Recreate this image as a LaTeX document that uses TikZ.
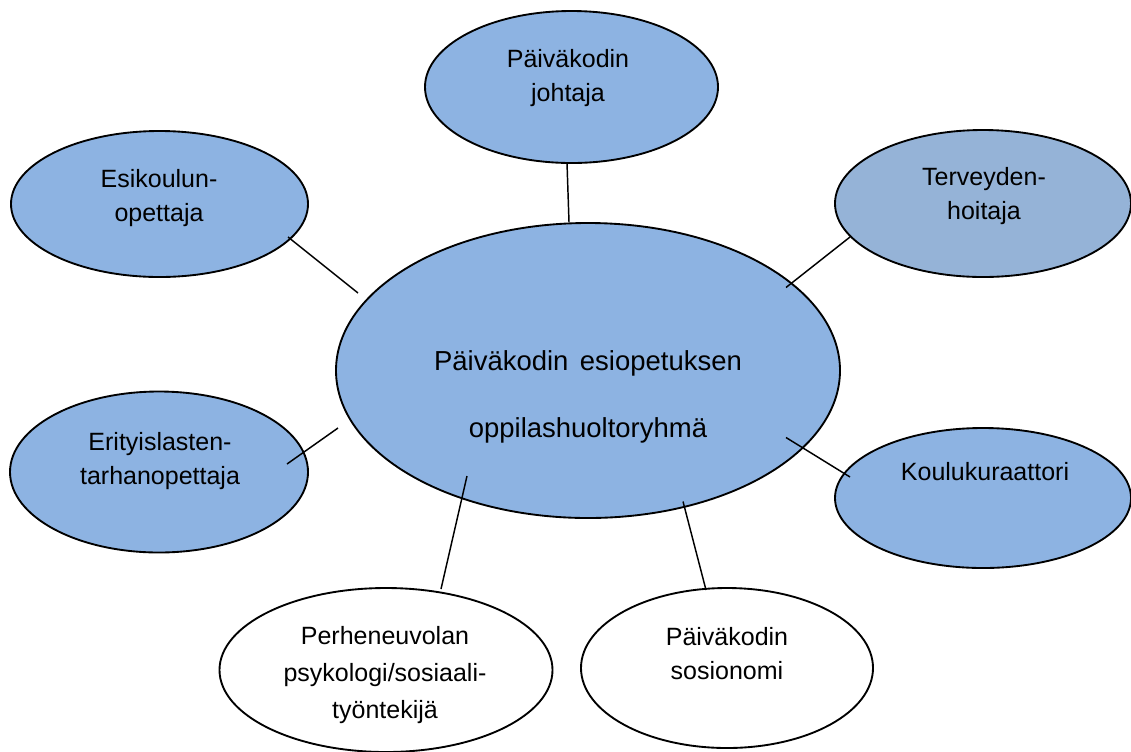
\documentclass[tikz,border=0pt]{standalone}
\usepackage{fontspec}
\setmainfont{Liberation Sans}
\usetikzlibrary{shapes.geometric,calc}
\definecolor{bubble}{HTML}{8DB3E2}
\definecolor{bubblegray}{HTML}{95B3D7}
\begin{document}
\begin{tikzpicture}[x=0.75pt,y=-0.75pt,
  bub/.style={ellipse,draw=black,line width=1.4pt,inner sep=0pt,outer sep=0pt,fill=bubble},
  wbub/.style={ellipse,draw=black,line width=1.4pt,inner sep=0pt,outer sep=0pt,fill=white},
  lbl/.style={align=center,inner sep=0pt,font=\fontsize{18.75}{25.5}\selectfont},
  conn/.style={draw=black,line width=1.1pt}]
\useasboundingbox (0,0) rectangle (1131,751);
\clip (0,0) rectangle (1131,751);
% ellipses
\node[bub,minimum width=378pt,minimum height=221.25pt] (cen) at (588,370.5) {};
\node[bub,minimum width=219.75pt,minimum height=114pt] (jo) at (571.5,87) {};
\node[bub,minimum width=222.75pt,minimum height=109.5pt] (esi) at (159.5,204) {};
\node[bub,fill=bubblegray,minimum width=222pt,minimum height=110.25pt] (ter) at (983,203.5) {};
\node[bub,minimum width=223.5pt,minimum height=120.75pt] (eri) at (159,472) {};
\node[bub,minimum width=222pt,minimum height=105pt] (kou) at (983,498) {};
\node[wbub,minimum width=249.75pt,minimum height=123pt] (per) at (386,670) {};
\node[wbub,minimum width=219pt,minimum height=120pt] (sos) at (727,668) {};
% connectors
\draw[conn] ($(jo.center)+(-4.5,76)$) -- ($(cen.center)+(-19,-148.5)$);
\draw[conn] ($(esi.center)+(128.5,33)$) -- ($(cen.center)+(-230,-77.5)$);
\draw[conn] ($(ter.center)+(-133,33.5)$) -- ($(cen.center)+(198,-83)$);
\draw[conn] ($(eri.center)+(128,-8)$) -- ($(cen.center)+(-250,57.5)$);
\draw[conn] ($(kou.center)+(-133,-21)$) -- ($(cen.center)+(198,67)$);
\draw[conn] ($(per.center)+(55,-81)$) -- ($(cen.center)+(-121,105.5)$);
\draw[conn] ($(sos.center)+(-21,-78)$) -- ($(cen.center)+(95,131)$);
% labels
\node[lbl] (jot) at (568,78) {Päiväkodin\\johtaja};
\node[lbl] (esit) at (159,198) {Esikoulun-\\opettaja};
\node[lbl] (tert) at (984,196) {Terveyden-\\hoitaja};
\node[lbl] (erit) at (160,461) {Erityislasten-\\tarhanopettaja};
\node[lbl] (kout) at (985,472) {Koulukuraattori};
\node[lbl,font=\fontsize{20.6}{50.25}\selectfont] (cent) at (588,396.5) {Päiväkodin\hspace{0.42em}esiopetuksen\\oppilashuoltoryhmä};
\node[lbl,font=\fontsize{18.75}{27.75}\selectfont] (pert) at (385,675.5) {Perheneuvolan\\psykologi/sosiaali-\\työntekijä};
\node[lbl] (sost) at (727,654) {Päiväkodin\\sosionomi};
\end{tikzpicture}
\end{document}
